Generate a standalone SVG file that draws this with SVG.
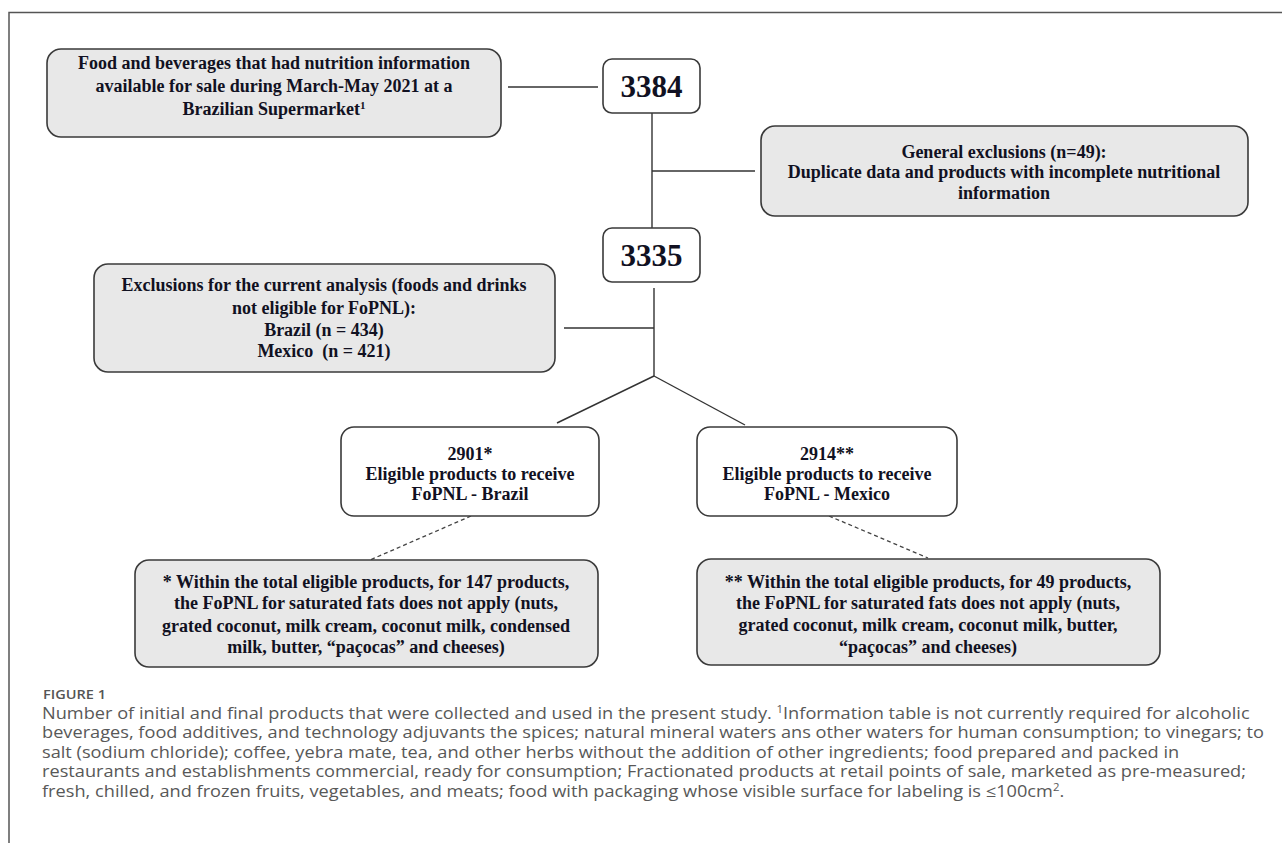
<svg xmlns="http://www.w3.org/2000/svg" width="1282" height="843" viewBox="0 0 1282 843">
<defs>
<style>
.gbox{fill:#e8e8e8;stroke:#3a3a3a;stroke-width:1.6}
.wbox{fill:#fff;stroke:#3a3a3a;stroke-width:1.6}
.t{font-family:"Liberation Serif","Times New Roman",serif;font-weight:bold;font-size:18px;fill:#111122;text-anchor:middle}
.num{font-family:"Liberation Serif","Times New Roman",serif;font-weight:bold;font-size:31px;fill:#111122;text-anchor:middle}
.ln{stroke:#333;stroke-width:1.4;fill:none}
.dash{stroke:#444;stroke-width:1.3;fill:none;stroke-dasharray:4 3}
.cap{font-family:"Open Sans","Noto Sans",sans-serif;font-size:16px;fill:#585858}
.fig{font-family:"Open Sans","Noto Sans",sans-serif;font-size:13px;fill:#555;font-weight:600}
</style>
</defs>
<rect x="0" y="0" width="1282" height="843" fill="#fff"/>
<path d="M9 843 V12.5 H1282" stroke="#555" stroke-width="1.5" fill="none"/>

<g id="connectors">
<line class="ln" x1="508" y1="87" x2="598" y2="87"/>
<line class="ln" x1="652" y1="113" x2="652" y2="228"/>
<line class="ln" x1="652" y1="171" x2="755" y2="171"/>
<line class="ln" x1="654" y1="288" x2="654" y2="376"/>
<line class="ln" x1="564" y1="328" x2="654" y2="328"/>
<line class="ln" x1="654" y1="376" x2="557" y2="423"/>
<line class="ln" x1="654" y1="376" x2="745" y2="425"/>
<line class="dash" x1="471" y1="516" x2="370" y2="560"/>
<line class="dash" x1="829" y1="516" x2="928" y2="558"/>
</g>

<g id="source">
<rect class="gbox" x="47" y="49" width="454" height="88" rx="14"/>
<text class="t" x="274" y="69">Food and beverages that had nutrition information</text>
<text class="t" x="274" y="92">available for sale during March-May 2021 at a</text>
<text class="t" x="274" y="115">Brazilian Supermarket<tspan font-size="11" dy="-6">1</tspan></text>
</g>

<g id="n3384">
<rect class="wbox" x="603" y="59" width="97" height="54" rx="9"/>
<text class="num" x="651.5" y="97">3384</text>
</g>

<g id="general-exclusions">
<rect class="gbox" x="761" y="126" width="487" height="90" rx="14"/>
<text class="t" x="1004" y="158">General exclusions (n=49):</text>
<text class="t" x="1004" y="178">Duplicate data and products with incomplete nutritional</text>
<text class="t" x="1004" y="199">information</text>
</g>

<g id="n3335">
<rect class="wbox" x="603" y="228" width="97" height="54" rx="9"/>
<text class="num" x="651.5" y="266">3335</text>
</g>

<g id="analysis-exclusions">
<rect class="gbox" x="94" y="264" width="461" height="108" rx="14"/>
<text class="t" x="324" y="291">Exclusions for the current analysis (foods and drinks</text>
<text class="t" x="324" y="314">not eligible for FoPNL):</text>
<text class="t" x="324" y="336">Brazil (n = 434)</text>
<text class="t" x="324" y="357" xml:space="preserve">Mexico  (n = 421)</text>
</g>

<g id="eligible-brazil">
<rect class="wbox" x="341" y="427" width="258" height="89" rx="13"/>
<text class="t" x="470" y="460">2901*</text>
<text class="t" x="470" y="480">Eligible products to receive</text>
<text class="t" x="470" y="500">FoPNL - Brazil</text>
</g>

<g id="eligible-mexico">
<rect class="wbox" x="697" y="427" width="260" height="89" rx="13"/>
<text class="t" x="827" y="460">2914**</text>
<text class="t" x="827" y="480">Eligible products to receive</text>
<text class="t" x="827" y="500">FoPNL - Mexico</text>
</g>

<g id="note-brazil">
<rect class="gbox" x="135" y="560" width="463" height="107" rx="14"/>
<text class="t" x="366" y="588">* Within the total eligible products, for 147 products,</text>
<text class="t" x="366" y="609">the FoPNL for saturated fats does not apply (nuts,</text>
<text class="t" x="366" y="632">grated coconut, milk cream, coconut milk, condensed</text>
<text class="t" x="366" y="653">milk, butter, “paçocas” and cheeses)</text>
</g>

<g id="note-mexico">
<rect class="gbox" x="697" y="559" width="463" height="106" rx="14"/>
<text class="t" x="928" y="588">** Within the total eligible products, for 49 products,</text>
<text class="t" x="928" y="609">the FoPNL for saturated fats does not apply (nuts,</text>
<text class="t" x="928" y="631">grated coconut, milk cream, coconut milk, butter,</text>
<text class="t" x="928" y="653">“paçocas” and cheeses)</text>
</g>

<g id="caption">
<text class="fig" x="43" y="699" textLength="63" lengthAdjust="spacingAndGlyphs">FIGURE 1</text>
<g transform="translate(42 0) scale(1.137 1)">
<text class="cap" x="0" y="719">Number of initial and final products that were collected and used in the present study. <tspan font-size="10" dy="-6">1</tspan><tspan dy="6">Information table is not currently required for alcoholic</tspan></text>
<text class="cap" x="0" y="738.5">beverages, food additives, and technology adjuvants the spices; natural mineral waters ans other waters for human consumption; to vinegars; to</text>
<text class="cap" x="0" y="758">salt (sodium chloride); coffee, yebra mate, tea, and other herbs without the addition of other ingredients; food prepared and packed in</text>
<text class="cap" x="0" y="777.5">restaurants and establishments commercial, ready for consumption; Fractionated products at retail points of sale, marketed as pre-measured;</text>
<text class="cap" x="0" y="797">fresh, chilled, and frozen fruits, vegetables, and meats; food with packaging whose visible surface for labeling is ≤100cm<tspan font-size="10" dy="-6">2</tspan><tspan dy="6">.</tspan></text>
</g>
</g>
</svg>
